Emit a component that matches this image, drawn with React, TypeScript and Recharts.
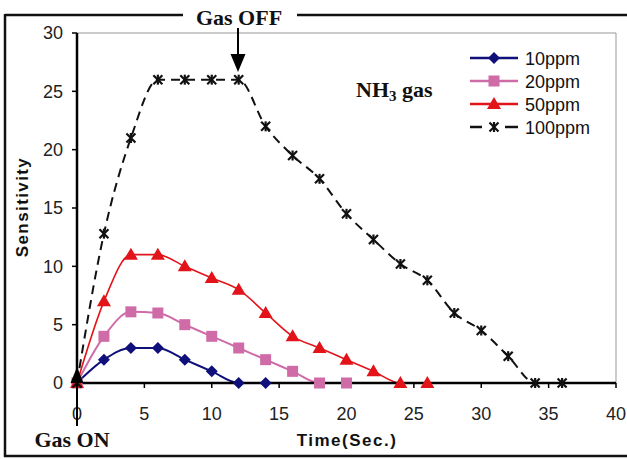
import React from 'react'
import { LineChart, Line, XAxis, YAxis, ReferenceLine } from 'recharts'

const time = [0, 2, 4, 6, 8, 10, 12, 14, 16, 18, 20, 22, 24, 26, 28, 30, 32, 34, 36]
const ppm10 = [0, 2, 3, 3, 2, 1, 0, 0]
const ppm20 = [0, 4, 6.1, 6, 5, 4, 3, 2, 1, 0, 0]
const ppm50 = [0, 7, 11, 11, 10, 9, 8, 6, 4, 3, 2, 1, 0, 0]
const ppm100 = [0, 12.8, 21, 26, 26, 26, 26, 22, 19.5, 17.5, 14.5, 12.3, 10.2, 8.8, 6, 4.5, 2.3, 0, 0]
const xTicks = [0, 5, 10, 15, 20, 25, 30, 35, 40]
const yTicks = [0, 5, 10, 15, 20, 25, 30]

const data = time.map((t, i) => ({ t, a: ppm10[i], b: ppm20[i], c: ppm50[i], d: ppm100[i] }))

const NAVY = '#10107a'
const PINK = '#cf6ca8'
const RED = '#e2141a'
const SANS = '"Liberation Sans", Arial, sans-serif'
const SERIF = '"Liberation Serif", "Times New Roman", serif'

type Shape = 'diamond' | 'square' | 'triangle' | 'star'

function marker(shape: Shape, cx: number, cy: number, color: string, key?: string | number) {
  if (shape === 'diamond')
    return <path key={key} d={`M${cx},${cy - 6}L${cx + 6},${cy}L${cx},${cy + 6}L${cx - 6},${cy}Z`} fill={color} />
  if (shape === 'square')
    return <rect key={key} x={cx - 5.5} y={cy - 5.5} width={11} height={11} fill={color} />
  if (shape === 'triangle')
    return <path key={key} d={`M${cx},${cy - 7}L${cx + 7},${cy + 5}L${cx - 7},${cy + 5}Z`} fill={color} />
  return (
    <g key={key} stroke={color} strokeWidth={2.2}>
      <line x1={cx - 4.5} y1={cy - 4.5} x2={cx + 4.5} y2={cy + 4.5} />
      <line x1={cx - 4.5} y1={cy + 4.5} x2={cx + 4.5} y2={cy - 4.5} />
      <line x1={cx} y1={cy - 5} x2={cx} y2={cy + 5} />
    </g>
  )
}

const series: { key: string; name: string; color: string; shape: Shape; width: number; dash?: string }[] = [
  { key: 'a', name: '10ppm', color: NAVY, shape: 'diamond', width: 2 },
  { key: 'b', name: '20ppm', color: PINK, shape: 'square', width: 2 },
  { key: 'c', name: '50ppm', color: RED, shape: 'triangle', width: 1.6 },
  { key: 'd', name: '100ppm', color: '#111', shape: 'star', width: 2, dash: '9 6' },
]

const makeDot = (shape: Shape, color: string) => (props: any) => {
  const { cx, cy, index, value } = props
  if (value == null || cx == null || cy == null) return <g key={`e${index}`} />
  return marker(shape, cx, cy, color, `m${index}`)
}

function LegendBox() {
  return (
    <g transform="translate(465,45)">
      {series.map((s, i) => {
        const y = 13 + i * 23
        return (
          <g key={s.key}>
            {s.dash ? (
              <g stroke={s.color} strokeWidth={2.5}>
                <line x1={5} y1={y} x2={17} y2={y} />
                <line x1={40} y1={y} x2={53} y2={y} />
              </g>
            ) : (
              <line x1={5} y1={y} x2={53} y2={y} stroke={s.color} strokeWidth={2.5} />
            )}
            {marker(s.shape, 29, y, s.color)}
            <text x={60} y={y + 6.5} fontFamily={SANS} fontSize={18} fill="#111">{s.name}</text>
          </g>
        )
      })}
    </g>
  )
}

export default function App() {
  return (
    <div style={{ position: 'absolute', left: 0, top: 0, width: 627, height: 459, background: '#fff' }}>
      <LineChart width={627} height={459} data={data} margin={{ top: 33, right: 11, bottom: 46, left: 27 }}>
        <XAxis
          dataKey="t"
          type="number"
          domain={[0, 40]}
          ticks={xTicks}
          tickSize={5}
          stroke="#000"
          axisLine={{ stroke: '#000', strokeWidth: 2.5 }}
          tickLine={{ stroke: '#000', strokeWidth: 1.5 }}
          tick={{ fill: '#222', fontSize: 18, fontFamily: SANS }}
          tickMargin={19}
          height={30}
        />
        <YAxis
          type="number"
          domain={[0, 30]}
          ticks={yTicks}
          tickSize={5}
          width={50}
          axisLine={{ stroke: '#000', strokeWidth: 2.5 }}
          tickLine={{ stroke: '#000', strokeWidth: 1.5 }}
          tick={{ fill: '#222', fontSize: 18, fontFamily: SANS }}
          tickMargin={9}
        />
        <ReferenceLine y={30} stroke="#999" strokeWidth={1} />
        <ReferenceLine x={40} stroke="#999" strokeWidth={1} />
        {series.map((s) => (
          <Line
            key={s.key}
            dataKey={s.key}
            name={s.name}
            type="monotone"
            stroke={s.color}
            strokeWidth={s.width}
            strokeDasharray={s.dash}
            dot={makeDot(s.shape, s.color)}
            activeDot={false}
            isAnimationActive={false}
          />
        ))}
      </LineChart>
      <svg width={627} height={459} style={{ position: 'absolute', left: 0, top: 0, pointerEvents: 'none' }}>
        <g stroke="#111" strokeWidth={2.5} fill="none">
          <line x1={5} y1={15} x2={183} y2={15} />
          <line x1={297} y1={15} x2={627} y2={15} />
          <line x1={5} y1={14} x2={5} y2={457} />
          <line x1={4} y1={456} x2={627} y2={456} />
        </g>
        <LegendBox />
        <text x={239} y={25} textAnchor="middle" fontFamily={SERIF} fontWeight="bold" fontSize={22} fill="#111">Gas OFF</text>
        <line x1={238} y1={28} x2={238} y2={56} stroke="#000" strokeWidth={2} />
        <path d="M230.5,54L245.5,54L238,72Z" fill="#000" />
        <line x1={77} y1={426} x2={77} y2={380} stroke="#000" strokeWidth={2} />
        <path d="M70.5,383L83.5,383L77,367Z" fill="#000" />
        <text x={72} y={447} textAnchor="middle" fontFamily={SERIF} fontWeight="bold" fontSize={22} fill="#111">Gas ON</text>
        <text x={356} y={97} fontFamily={SERIF} fontWeight="bold" fontSize={22} fill="#111">
          NH<tspan fontSize={15} dy={4}>3</tspan><tspan dy={-4}> gas</tspan>
        </text>
        <text x={347} y={446} textAnchor="middle" fontFamily={SANS} fontWeight="bold" fontSize={17} letterSpacing={1.5} fill="#111">Time(Sec.)</text>
        <text x={0} y={0} transform="translate(28,207) rotate(-90)" textAnchor="middle" fontFamily={SANS} fontWeight="bold" fontSize={17} letterSpacing={1.4} fill="#111">Sensitivity</text>
      </svg>
    </div>
  )
}
